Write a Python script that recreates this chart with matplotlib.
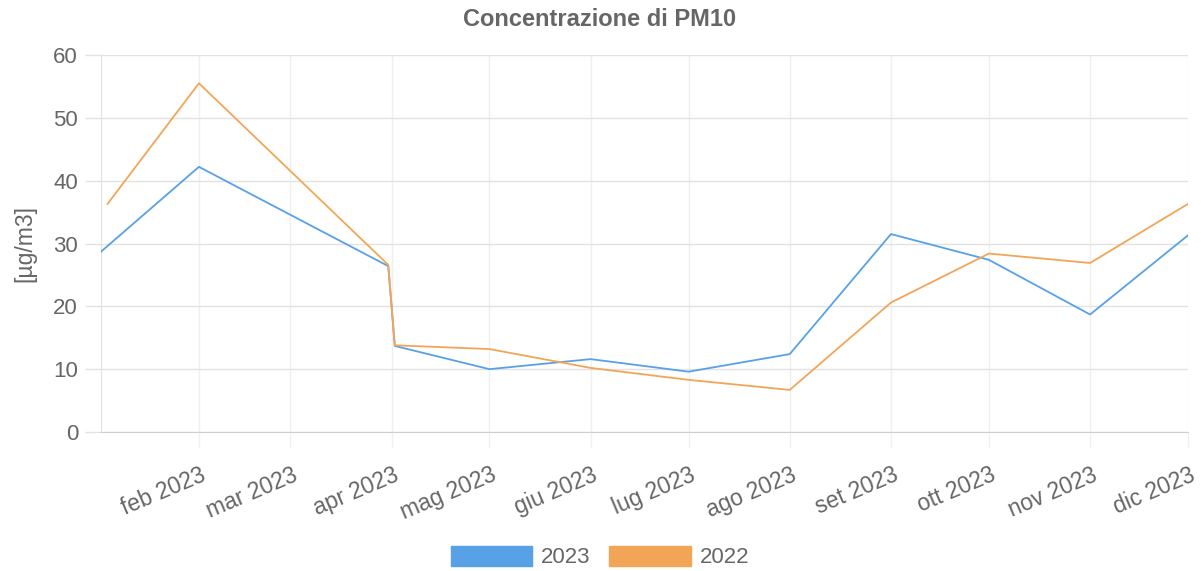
import matplotlib
matplotlib.use("Agg")
import matplotlib.pyplot as plt
import matplotlib.transforms as mtransforms
from matplotlib.patches import Patch
import datetime as dt

plt.rcParams['font.family'] = ['Liberation Sans', 'DejaVu Sans']

dates_2023 = ["2023-01-02", "2023-02-01", "2023-03-31", "2023-04-02", "2023-05-01",
              "2023-06-01", "2023-07-01", "2023-08-01", "2023-09-01", "2023-10-01",
              "2023-11-01", "2023-12-01"]
values_2023 = [28.7, 42.2, 26.4, 13.7, 10.0, 11.6, 9.6, 12.4, 31.5, 27.4, 18.7, 31.3]

dates_2022 = ["2023-01-04", "2023-02-01", "2023-03-31", "2023-04-02", "2023-05-01",
              "2023-06-01", "2023-07-01", "2023-08-01", "2023-09-01", "2023-10-01",
              "2023-11-01", "2023-12-01"]
values_2022 = [36.3, 55.5, 26.6, 13.8, 13.2, 10.2, 8.3, 6.7, 20.6, 28.4, 26.9, 36.3]

tick_dates = ["2023-02-01", "2023-03-01", "2023-04-01", "2023-05-01", "2023-06-01",
              "2023-07-01", "2023-08-01", "2023-09-01", "2023-10-01", "2023-11-01",
              "2023-12-01"]
tick_labels = ["feb 2023", "mar 2023", "apr 2023", "mag 2023", "giu 2023", "lug 2023",
               "ago 2023", "set 2023", "ott 2023", "nov 2023", "dic 2023"]

title = "Concentrazione di PM10"
ylabel = "[µg/m3]"
series_names = ["2023", "2022"]
colors = ["#58A1E6", "#F3A557"]

def to_dt(lst):
    return [dt.datetime.strptime(s, "%Y-%m-%d") for s in lst]

W, H = 1201, 571
fig = plt.figure(figsize=(W / 100, H / 100), dpi=100)
ax = fig.add_axes([101 / W, 1 - 432 / H, (1188 - 101) / W, (432 - 55) / H])

ax.plot(to_dt(dates_2023), values_2023, color=colors[0], lw=1.3, zorder=3)
ax.plot(to_dt(dates_2022), values_2022, color=colors[1], lw=1.3, zorder=3)

ax.set_xlim(to_dt(["2023-01-02"])[0], to_dt(["2023-12-01"])[0])
ax.set_ylim(0, 60)
ax.set_yticks([0, 10, 20, 30, 40, 50, 60])
ax.set_xticks(to_dt(tick_dates))
ax.set_xticklabels(tick_labels, rotation=23, ha='right', va='center_baseline',
                   rotation_mode='anchor')

txtc = "#666666"
ax.tick_params(axis='y', labelsize=16, colors=txtc, length=11.5, width=1, color="#e2e2e2", pad=5)
ax.tick_params(axis='x', labelsize=16.5, colors=txtc, length=11.5, width=1, color="#f0f0f0", pad=17)
offset = mtransforms.ScaledTranslation(5 / 100, 0, fig.dpi_scale_trans)
for lab in ax.get_xticklabels():
    lab.set_transform(lab.get_transform() + offset)

ax.grid(axis='y', color="#e2e2e2", lw=1, zorder=0)
ax.grid(axis='x', color="#efefef", lw=1, zorder=0)
for s in ['top', 'right']:
    ax.spines[s].set_visible(False)
ax.spines['left'].set_color("#e2e2e2")
ax.spines['bottom'].set_color("#cfcfcf")

ax.set_ylabel(ylabel, fontsize=16.5, color=txtc, labelpad=12)
fig.text(600 / W, 1 - 19 / H, title, ha='center', va='center', fontsize=17,
         fontweight='bold', color=txtc)

handles = [Patch(facecolor=colors[0], edgecolor=colors[0]),
           Patch(facecolor=colors[1], edgecolor=colors[1])]
leg = fig.legend(handles, series_names, loc='center', bbox_to_anchor=(600 / W, 1 - 557 / H),
                 ncol=2, frameon=False, fontsize=16, handlelength=3.65, handleheight=1.05,
                 handletextpad=0.4, columnspacing=0.85)
for t in leg.get_texts():
    t.set_color(txtc)

fig.savefig("out.png", dpi=100)
